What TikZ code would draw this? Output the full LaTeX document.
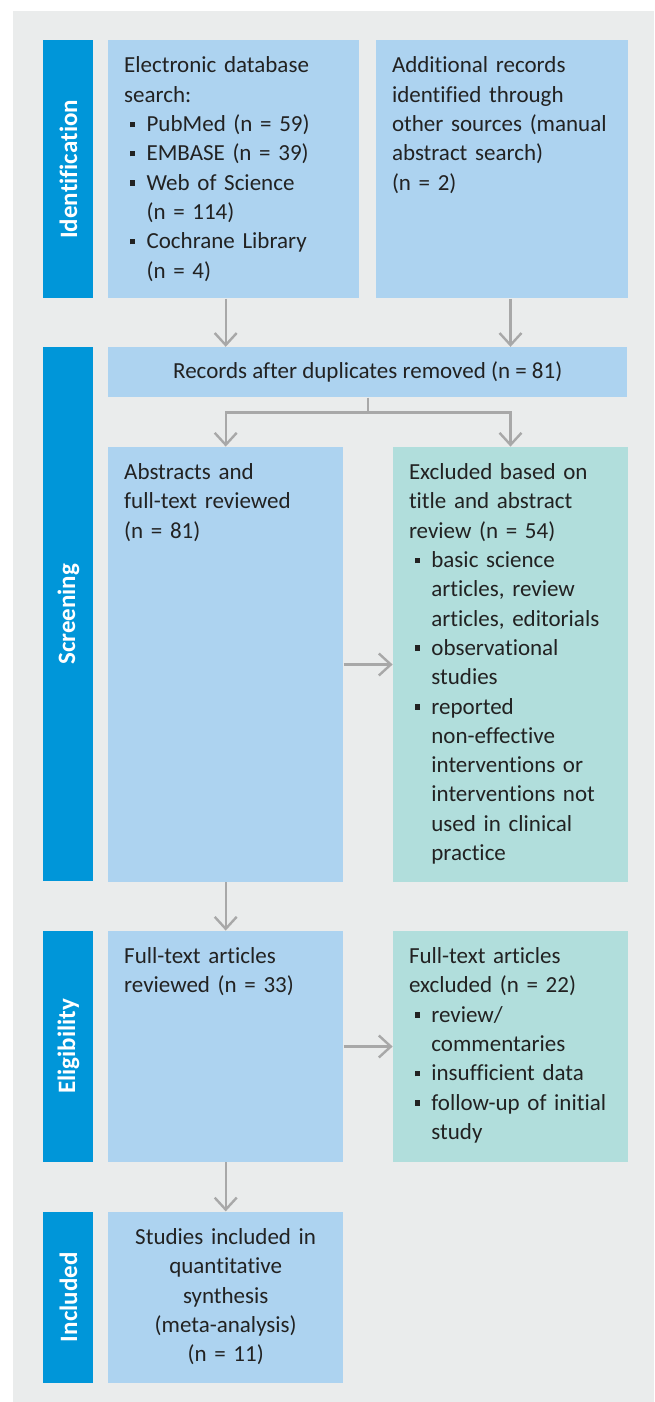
\documentclass[tikz,border=0pt]{standalone}
\usepackage{fontspec}
\setmainfont{Carlito}[Ligatures=NoCommon]
\usepackage{graphicx}
\usepackage{tikz}
\usetikzlibrary{positioning, arrows.meta}
\definecolor{panelgray}{HTML}{EAECEC}
\definecolor{phaseblue}{HTML}{0096D9}
\definecolor{boxblue}{HTML}{ADD3F0}
\definecolor{boxgreen}{HTML}{B1DEDC}
\definecolor{arrowgray}{HTML}{A8A8A8}
\definecolor{textdark}{HTML}{222222}
\newcommand{\bitem}{\par\hangindent=11.2pt\hangafter=1\noindent\makebox[11.2pt][l]{\hspace{2.8pt}\rule[2.2pt]{2.8pt}{2.8pt}}}
\tikzstyle{phase} = [rectangle, minimum width=25pt, inner sep=0pt, fill=phaseblue, text=white, font=\fontsize{12.5}{14}\selectfont\bfseries]
\tikzstyle{infobox} = [rectangle, fill=boxblue, text=textdark, align=left, inner xsep=8pt, inner ysep=0pt, text height=16.3pt, font=\fontsize{11.5}{14.65}\selectfont]
\tikzstyle{exclbox} = [infobox, fill=boxgreen]
\tikzstyle{arrow} = [line width=1.2pt, draw=arrowgray, -{Straight Barb[length=6pt, width=11pt, line width=1.2pt]}]

\begin{document}
\begin{tikzpicture}
    \useasboundingbox (0,0) rectangle (327pt,-701pt);
    \fill [panelgray] (6.5pt,-5.5pt) rectangle (327pt,-701pt);
    % phases on the left
    \node (ident) [phase, minimum height=129pt, anchor=north west] at (21.5pt,-20pt) {\rotatebox{90}{Identification}};
    \node (screen) [phase, minimum height=267pt, below=24pt of ident.south, anchor=north] {\rotatebox{90}{Screening}};
    \node (elig) [phase, minimum height=115.5pt, below=24.5pt of screen.south, anchor=north] {\rotatebox{90}{Eligibility}};
    \node (incl) [phase, minimum height=85.5pt, below=24.5pt of elig.south, anchor=north] {\rotatebox{90}{Included}};
    % identification
    \node (search) [infobox, text width=109.5pt, text depth=112.7pt, right=7pt of ident.north east, anchor=north west] {Electronic database\newline search:%
        \bitem PubMed (n = 59)\bitem EMBASE (n = 39)\bitem Web of Science\newline (n = 114)\bitem Cochrane Library\newline (n = 4)\par};
    \node (other) [infobox, text width=110pt, text depth=112.7pt, right=8pt of search.north east, anchor=north west] {Additional records\newline identified through\newline other sources (manual\newline abstract search)\newline (n = 2)};
    % screening
    \node (dedup) [rectangle, fill=boxblue, text=textdark, minimum width=259.5pt, minimum height=25pt, inner sep=0pt, font=\fontsize{11.5}{14.65}\selectfont, right=7pt of screen.north east, anchor=north west] {Records after duplicates removed (n = 81)};
    \node (abstr) [infobox, text width=101.5pt, text depth=201.2pt, below=24.5pt of dedup.south west, anchor=north west] {Abstracts and\newline full-text reviewed\newline (n = 81)};
    \node (excl1) [exclbox, text width=101.5pt, text depth=201.2pt, right=24.5pt of abstr.north east, anchor=north west] {Excluded based on\newline title and abstract\newline review (n = 54)%
        \bitem basic science\newline articles, review\newline articles, editorials\bitem observational\newline studies\bitem reported\newline non-effective\newline interventions or\newline interventions not\newline used in clinical\newline practice\par};
    % eligibility
    \node (ftr) [infobox, text width=101.5pt, text depth=99.2pt, right=7pt of elig.north east, anchor=north west] {Full-text articles\newline reviewed (n = 33)};
    \node (excl2) [exclbox, text width=101.5pt, text depth=99.2pt, right=24.5pt of ftr.north east, anchor=north west] {Full-text articles\newline excluded (n = 22)%
        \bitem review/\newline commentaries\bitem insufficient data\bitem follow-up of initial\newline study\par};
    % included
    \node (stud) [infobox, align=center, text width=101.5pt, text depth=69.2pt, right=7pt of incl.north east, anchor=north west] {Studies included in\\ quantitative\\ synthesis\\ (meta-analysis)\\ (n = 11)};
    \coordinate (split) at ([yshift=-7.5pt]dedup.south);
    \draw [arrow] (abstr.north |- search.south) -- (abstr.north |- dedup.north);
    \draw [arrow] (excl1.north |- other.south) -- (excl1.north |- dedup.north);
    \draw [arrow] (dedup.south) -- (split) -| (abstr.north);
    \draw [arrow] (split) -| (excl1.north);
    \draw [arrow] (abstr.east) -- (excl1.west);
    \draw [arrow] (abstr.south) -- (ftr.north);
    \draw [arrow] (ftr.east) -- (excl2.west);
    \draw [arrow] (ftr.south) -- (stud.north);
\end{tikzpicture}
\end{document}
